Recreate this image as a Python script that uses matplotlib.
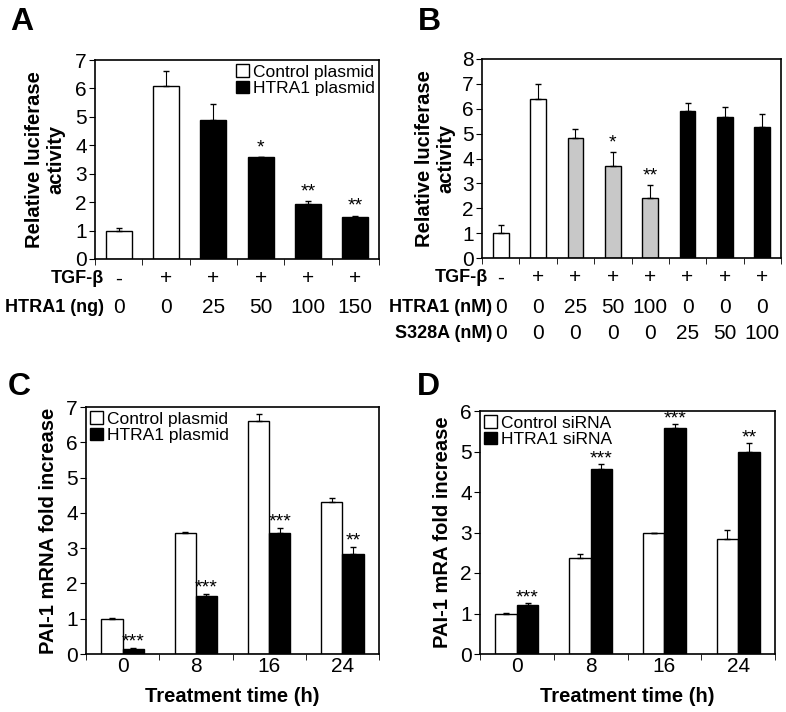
import matplotlib.pyplot as plt
from matplotlib.patches import Patch
import numpy as np

plt.rcParams['font.family'] = ['Liberation Sans', 'DejaVu Sans']

# Panel A
a_vals = [1.0, 6.07, 4.9, 3.58, 1.92, 1.48]
a_errs = [0.1, 0.55, 0.55, 0.02, 0.12, 0.05]
a_colors = ['white', 'white', 'black', 'black', 'black', 'black']
a_stars = ['', '', '', '*', '**', '**']
a_tgf = ['-', '+', '+', '+', '+', '+']
a_htra = ['0', '0', '25', '50', '100', '150']

# Panel B
b_vals = [1.0, 6.38, 4.82, 3.7, 2.42, 5.9, 5.65, 5.28]
b_errs = [0.33, 0.62, 0.38, 0.55, 0.5, 0.35, 0.43, 0.52]
b_colors = ['white', 'white', '#c8c8c8', '#c8c8c8', '#c8c8c8', 'black', 'black', 'black']
b_stars = ['', '', '', '*', '**', '', '', '']
b_tgf = ['-', '+', '+', '+', '+', '+', '+', '+']
b_htra = ['0', '0', '25', '50', '100', '0', '0', '0']
b_s328 = ['0', '0', '0', '0', '0', '25', '50', '100']

# Panel C
times = ['0', '8', '16', '24']
c_ctrl = [1.0, 3.43, 6.6, 4.32]
c_ctrl_err = [0.02, 0.03, 0.2, 0.1]
c_htra = [0.15, 1.65, 3.42, 2.83]
c_htra_err = [0.03, 0.05, 0.15, 0.2]
c_stars = ['***', '***', '***', '**']

# Panel D
d_ctrl = [1.0, 2.37, 2.98, 2.85]
d_ctrl_err = [0.02, 0.1, 0.02, 0.2]
d_htra = [1.22, 4.58, 5.57, 5.0]
d_htra_err = [0.03, 0.1, 0.1, 0.2]
d_stars = ['***', '***', '***', '**']

W, H = 786, 712
fig = plt.figure(figsize=(W / 100, H / 100), dpi=100)

TICK = 15
LABEL = 14.5
STAR = 14
LEG = 12.5


def px_axes(left, top, right, bottom):
    return fig.add_axes([left / W, 1 - bottom / H, (right - left) / W, (bottom - top) / H])


def style(ax, n, ymax):
    ax.set_xlim(-0.5, n - 0.5)
    ax.set_ylim(0, ymax)
    ax.set_yticks(range(ymax + 1))
    ax.set_xticks(np.arange(n), [''] * n)
    ax.set_xticks(np.arange(n + 1) - 0.5, minor=True)
    ax.tick_params(axis='x', which='major', length=0)
    ax.tick_params(axis='x', which='minor', length=4, direction='out')
    ax.tick_params(axis='y', length=4, labelsize=TICK, pad=2)
    for s in ax.spines.values():
        s.set_linewidth(1.2)


def row(ax, y, label, vals, lx):
    ax.text(lx, y, label, transform=ax.transAxes, ha='right', va='center',
            fontsize=13, fontweight='bold')
    for i, v in enumerate(vals):
        ax.text(i, y, v, transform=ax.get_xaxis_transform(), ha='center',
                va='center', fontsize=TICK)


def legend(ax, labels, loc):
    ax.legend(handles=[Patch(facecolor='white', edgecolor='black', label=labels[0]),
                       Patch(facecolor='black', edgecolor='black', label=labels[1])],
              loc=loc, frameon=False, fontsize=LEG, handlelength=0.75,
              handleheight=0.75, handletextpad=0.2, labelspacing=0.05,
              borderaxespad=0.0, borderpad=0.25)


# ---- A
ax = px_axes(95, 60, 379, 259)
x = np.arange(len(a_vals))
ax.bar(x, a_vals, 0.55, color=a_colors, edgecolor='black', linewidth=1)
ax.errorbar(x, a_vals, yerr=[np.zeros(len(a_errs)), a_errs], fmt='none',
            ecolor='black', elinewidth=0.8, capsize=2.5)
for i, s in enumerate(a_stars):
    if s:
        ax.text(i, a_vals[i] + a_errs[i] + 0.02, s, ha='center', va='bottom', fontsize=STAR)
style(ax, len(a_vals), 7)
ax.set_ylabel('Relative luciferase\nactivity', fontsize=LABEL, fontweight='bold',
              labelpad=7, linespacing=1.15)
row(ax, -0.1, 'TGF-β', a_tgf, 0.03)
row(ax, -0.245, 'HTRA1 (ng)', a_htra, 0.03)
legend(ax, ['Control plasmid', 'HTRA1 plasmid'], 'upper right')
fig.text(10 / W, 1 - 22 / H, 'A', fontsize=23, fontweight='bold', va='center')

# ---- B
ax = px_axes(482, 59, 781, 258)
x = np.arange(len(b_vals))
ax.bar(x, b_vals, 0.42, color=b_colors, edgecolor='black', linewidth=1)
ax.errorbar(x, b_vals, yerr=[np.zeros(len(b_errs)), b_errs], fmt='none',
            ecolor='black', elinewidth=0.8, capsize=2.5)
for i, s in enumerate(b_stars):
    if s:
        ax.text(i, b_vals[i] + b_errs[i] + 0.02, s, ha='center', va='bottom', fontsize=STAR)
style(ax, len(b_vals), 8)
ax.set_ylabel('Relative luciferase\nactivity', fontsize=LABEL, fontweight='bold',
              labelpad=5, linespacing=1.15)
row(ax, -0.1, 'TGF-β', b_tgf, 0.02)
row(ax, -0.25, 'HTRA1 (nM)', b_htra, 0.035)
row(ax, -0.38, 'S328A (nM)', b_s328, 0.035)
fig.text(418 / W, 1 - 22 / H, 'B', fontsize=23, fontweight='bold', va='center')


def grouped(ax, ctrl, ce, htra, he, stars, ymax, labels):
    x = np.arange(len(times))
    w = 0.29
    ax.bar(x - w / 2, ctrl, w, color='white', edgecolor='black', linewidth=1)
    ax.bar(x + w / 2, htra, w, color='black', edgecolor='black', linewidth=1)
    ax.errorbar(x - w / 2, ctrl, yerr=[np.zeros(4), ce], fmt='none', ecolor='black',
                elinewidth=0.8, capsize=2.5)
    ax.errorbar(x + w / 2, htra, yerr=[np.zeros(4), he], fmt='none', ecolor='black',
                elinewidth=0.8, capsize=2.5)
    for i, s in enumerate(stars):
        ax.text(x[i] + w / 2, htra[i] + he[i] - 0.08, s, ha='center', va='bottom',
                fontsize=STAR)
    style(ax, len(times), ymax)
    ax.set_xticklabels(times)
    ax.tick_params(axis='x', which='major', labelsize=TICK, pad=2)
    ax.set_xlabel('Treatment time (h)', fontsize=LABEL, fontweight='bold', labelpad=8)
    legend(ax, labels, 'upper left')


# ---- C
ax = px_axes(86, 407, 379, 654)
grouped(ax, c_ctrl, c_ctrl_err, c_htra, c_htra_err, c_stars, 7,
        ['Control plasmid', 'HTRA1 plasmid'])
ax.set_ylabel('PAI-1 mRNA fold increase', fontsize=LABEL, fontweight='bold', labelpad=6)
fig.text(8 / W, 1 - 387 / H, 'C', fontsize=23, fontweight='bold', va='center')

# ---- D
ax = px_axes(480, 411, 775, 654)
grouped(ax, d_ctrl, d_ctrl_err, d_htra, d_htra_err, d_stars, 6,
        ['Control siRNA', 'HTRA1 siRNA'])
ax.set_ylabel('PAI-1 mRA fold increase', fontsize=LABEL, fontweight='bold', labelpad=6)
fig.text(417 / W, 1 - 387 / H, 'D', fontsize=23, fontweight='bold', va='center')

fig.savefig('out.png', dpi=100)
